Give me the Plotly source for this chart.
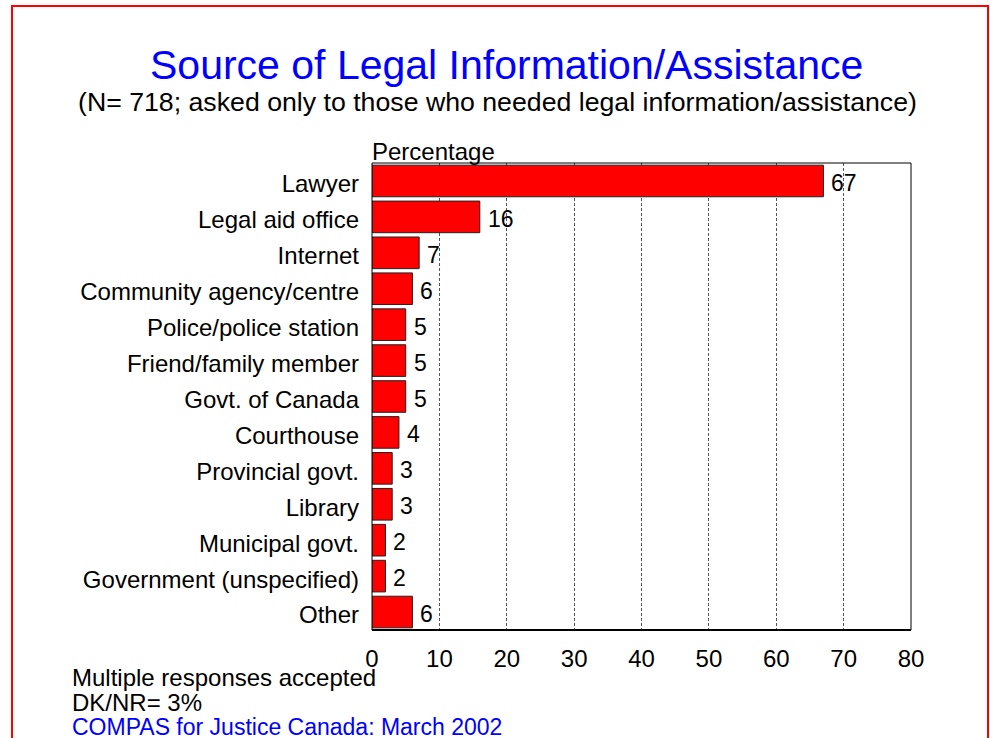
import plotly.graph_objects as go

categories = [
    "Lawyer", "Legal aid office", "Internet", "Community agency/centre",
    "Police/police station", "Friend/family member", "Govt. of Canada",
    "Courthouse", "Provincial govt.", "Library", "Municipal govt.",
    "Government (unspecified)", "Other",
]
values = [67, 16, 7, 6, 5, 5, 5, 4, 3, 3, 2, 2, 6]
x_ticks = [0, 10, 20, 30, 40, 50, 60, 70, 80]

FONT = "Liberation Sans, Arial, sans-serif"

# plot area in pixels (990x738 page)
L, R, T, B = 372, 911, 163, 630
W, H = R - L, B - T


def px(x):
    return (x - L) / W


def py(y):
    return (B - y) / H


fig = go.Figure()
fig.add_trace(go.Bar(
    y=categories, x=values, orientation="h",
    marker=dict(color="#FF0000", line=dict(color="#222222", width=1)),
    width=0.88, hoverinfo="x+y",
))

annotations = []
for c, v in zip(categories, values):
    annotations.append(dict(
        x=v, y=c, xref="x", yref="y", text=str(v), showarrow=False,
        xanchor="left", yanchor="middle", xshift=6, yshift=-2,
        font=dict(size=23, color="black", family=FONT),
    ))


def note(x, y, text, size, color="black", anchor="left"):
    return dict(x=px(x), y=py(y), xref="paper", yref="paper", showarrow=False,
                xanchor=anchor, yanchor="middle", text=text,
                font=dict(size=size, color=color, family=FONT))


annotations += [
    note(506, 65, "Source of Legal Information/Assistance", 41, "#0000FF", "center"),
    note(497, 102, "(N= 718; asked only to those who needed legal information/assistance)",
         26.7, anchor="center"),
    note(370, 151, "Percentage", 24),
    note(70, 677, "Multiple responses accepted", 24),
    note(70, 702, "DK/NR= 3%", 24),
    note(70, 727, "COMPAS for Justice Canada: March 2002", 23, "#0000FF"),
]

shapes = [
    # outer red border
    dict(type="rect", xref="paper", yref="paper",
         x0=px(12), x1=px(988), y0=py(760), y1=py(6),
         line=dict(color="#FF0000", width=2), fillcolor="rgba(0,0,0,0)"),
    # plot frame
    dict(type="rect", xref="paper", yref="paper", x0=0, x1=1, y0=0, y1=1,
         line=dict(color="black", width=1), fillcolor="rgba(0,0,0,0)"),
    dict(type="line", xref="paper", yref="paper", x0=0, x1=1, y0=0, y1=0,
         line=dict(color="black", width=2)),
]

fig.update_layout(
    width=990, height=738,
    margin=dict(l=L, r=990 - R, t=T, b=738 - B),
    paper_bgcolor="white", plot_bgcolor="white",
    showlegend=False,
    bargap=0.12,
    font=dict(family=FONT, size=24, color="black"),
    annotations=annotations,
    shapes=shapes,
    xaxis=dict(
        range=[0, 80], tickvals=x_ticks, ticktext=[str(t) for t in x_ticks],
        showgrid=True, gridcolor="#555555", gridwidth=1, griddash="3px,2px",
        zeroline=False, showline=False, ticks="", ticklabelstandoff=12,
        tickfont=dict(size=24, family=FONT, color="black"), fixedrange=True,
    ),
    yaxis=dict(
        autorange="reversed", showgrid=False, zeroline=False, showline=False,
        ticks="", ticklabelstandoff=12, ticklabelshift=-3,
        tickfont=dict(size=24, family=FONT, color="black"), fixedrange=True,
    ),
)

fig.write_html("out.html")
